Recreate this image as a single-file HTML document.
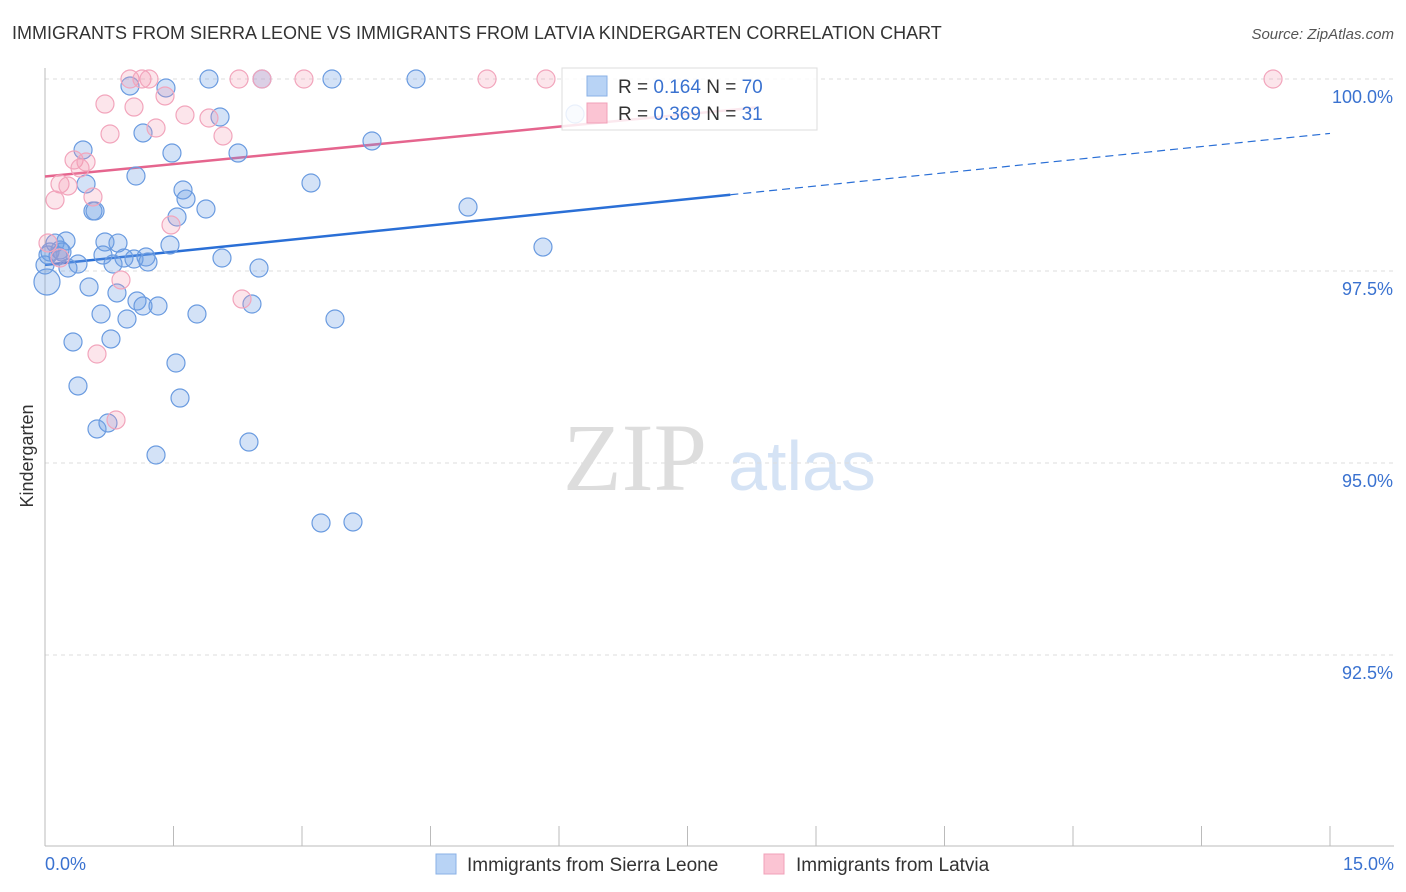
<!DOCTYPE html>
<html><head><meta charset="utf-8"><style>
body{margin:0;background:#fff;font-family:"Liberation Sans",sans-serif;}
#wrap{position:relative;width:1406px;height:892px;overflow:hidden;}
</style></head><body>
<div id="wrap">
<svg id="svg" width="1406" height="892" xmlns="http://www.w3.org/2000/svg">
<text x="12" y="39" font-size="18" fill="#333">IMMIGRANTS FROM SIERRA LEONE VS IMMIGRANTS FROM LATVIA KINDERGARTEN CORRELATION CHART</text>
<text x="1394" y="39" font-size="15" fill="#555" font-style="italic" text-anchor="end">Source: ZipAtlas.com</text>
<text x="33" y="456" font-size="18" fill="#333" text-anchor="middle" transform="rotate(-90 33 456)">Kindergarten</text>
<g><text x="635" y="490" font-size="96" fill="#ddd" font-family="Liberation Serif,serif" text-anchor="middle">ZIP</text><text x="802" y="490" font-size="70" fill="#d5e3f5" text-anchor="middle">atlas</text></g>
<g id="grid"></g><g id="axes"></g><g id="lines"></g><g id="pts"></g>
<g>
<rect x="562" y="68" width="255" height="62" fill="#fff" fill-opacity="0.85" stroke="#ddd"/>
<rect x="587" y="76" width="20" height="20" fill="#b8d3f5" stroke="#8ab0e6"/>
<rect x="587" y="103" width="20" height="20" fill="#fbc4d3" stroke="#f0a0b8"/>
<text x="618" y="93" font-size="19" fill="#333">R = <tspan fill="#3a72d0">0.164</tspan>   N = <tspan fill="#3a72d0">70</tspan></text>
<text x="618" y="120" font-size="19" fill="#333">R = <tspan fill="#3a72d0">0.369</tspan>   N = <tspan fill="#3a72d0"> 31</tspan></text>
</g>
<g>
<rect x="436" y="854" width="20" height="20" fill="#b8d3f5" stroke="#8ab0e6"/>
<text x="467" y="871" font-size="19" fill="#333">Immigrants from Sierra Leone</text>
<rect x="764" y="854" width="20" height="20" fill="#fbc4d3" stroke="#f0a0b8"/>
<text x="796" y="871" font-size="19" fill="#333">Immigrants from Latvia</text>
</g>
</svg></div>
<script>
const blueX=[1.914,2.533,3.350,4.331,0.992,1.412,2.043,1.144,3.817,1.482,2.253,0.444,1.062,0.479,3.105,1.611,1.646,0.560,1.879,1.541,4.938,0.584,0.117,0.245,0.700,0.852,1.459,5.813,0.175,0.035,0.677,0.922,1.039,1.179,1.202,2.066,0.794,0.385,2.498,0.268,0.023,0.514,0.840,1.074,1.144,1.319,2.416,0.654,1.774,0.957,3.385,0.770,0.327,1.529,0.385,1.576,0.607,0.735,2.381,1.296,3.222,3.595,0.058,0.152,0.198,0.0,6.187];
const blueY=[100,100,100,100,99.909,99.883,99.505,99.297,99.193,99.036,99.036,99.076,98.737,98.633,98.646,98.555,98.437,98.281,98.307,98.203,98.333,98.281,97.864,97.891,97.878,97.864,97.839,97.812,97.773,97.708,97.708,97.669,97.656,97.682,97.617,97.669,97.591,97.591,97.539,97.539,97.357,97.292,97.214,97.109,97.044,97.044,97.070,96.940,96.940,96.875,96.875,96.615,96.576,96.302,96.003,95.846,95.443,95.521,95.273,95.104,94.219,94.232,97.747,97.695,97.747,97.578,99.544];
const pinkX=[0.992,1.132,1.214,2.265,2.533,3.023,5.160,5.848,14.335,0.700,1.401,1.039,1.634,1.914,1.296,0.759,2.078,0.339,0.479,0.409,0.175,0.268,0.117,0.560,1.471,0.035,0.887,2.300,0.607,0.829,0.175];
const pinkY=[100,100,100,100,100,100,100,100,100,99.674,99.779,99.635,99.531,99.492,99.362,99.284,99.258,98.945,98.919,98.841,98.633,98.607,98.424,98.464,98.099,97.865,97.383,97.135,96.419,95.560,97.669];
const yTicks=[100,97.5,95,92.5];
const yTickLabels=["100.0%","97.5%","95.0%","92.5%"];
const xTicks=[0,1.5,3,4.5,6,7.5,9,10.5,12,13.5,15];
const xEndLabels=["0.0%","15.0%"];
const blueTrend=[97.58,0.1141]; // intercept, slope per %
const pinkTrend=[98.73,0.1083];
const blueSolidEnd=8.0, pinkEnd=8.3;

const NS="http://www.w3.org/2000/svg";
const sx=v=>45+v*(1285/15);
const sy=v=>79+(100-v)*(192/2.5);
function mk(tag,attrs,parent){const e=document.createElementNS(NS,tag);for(const k in attrs)e.setAttribute(k,attrs[k]);document.getElementById(parent).appendChild(e);return e;}
yTicks.forEach((t,i)=>{
 const g=mk('line',{x1:45,x2:1394,y1:sy(t),y2:sy(t),stroke:'#ddd','stroke-dasharray':'4,4'},'grid');
 
 
 const l=mk('text',{x:1393,y:sy(t)+24,'font-size':18,fill:'#3a72d0','text-anchor':'end'},'axes');
 l.textContent=yTickLabels[i];
 
 
});
const ax=mk('line',{x1:45,x2:45,y1:68,y2:846,stroke:'#bbb'},'axes');


const bx=mk('line',{x1:45,x2:1394,y1:846,y2:846,stroke:'#bbb'},'axes');


xTicks.forEach(t=>{
 const k=mk('line',{x1:sx(t),x2:sx(t),y1:826,y2:846,stroke:'#bbb'},'axes');
 
 
});
const xl0=mk('text',{x:45,y:870,'font-size':18,fill:'#3a72d0'},'axes');xl0.textContent=xEndLabels[0];


const xl1=mk('text',{x:1394,y:870,'font-size':18,fill:'#3a72d0','text-anchor':'end'},'axes');xl1.textContent=xEndLabels[1];



function pts(X,Y,fill,stroke,name){X.forEach((x,i)=>{
 const r=(x<0.05&&Y[i]<97.4)?13:9;
 const c=mk('circle',{cx:sx(x),cy:sy(Y[i]),r:r,fill:fill,stroke:stroke,'stroke-width':1.2},'pts');
 
 
});}
pts(blueX,blueY,'rgba(110,160,230,0.3)','#6a9be0','point-sierra-leone');
pts(pinkX,pinkY,'rgba(245,150,175,0.25)','#f2a5bc','point-latvia');

const f=(t,x)=>t[0]+t[1]*x;
const b1=mk('line',{x1:sx(0),y1:sy(f(blueTrend,0)),x2:sx(blueSolidEnd),y2:sy(f(blueTrend,blueSolidEnd)),stroke:'#2a6fd6','stroke-width':2.5},'lines');


const b2=mk('line',{x1:sx(blueSolidEnd),y1:sy(f(blueTrend,blueSolidEnd)),x2:sx(15),y2:sy(f(blueTrend,15)),stroke:'#2a6fd6','stroke-width':1.2,'stroke-dasharray':'8,5'},'lines');


const p1=mk('line',{x1:sx(0),y1:sy(f(pinkTrend,0)),x2:sx(pinkEnd),y2:sy(f(pinkTrend,pinkEnd)),stroke:'#e5658e','stroke-width':2.5},'lines');


</script>
</body></html>
